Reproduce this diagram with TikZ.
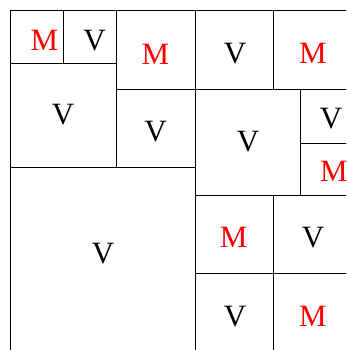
\documentclass[tikz,border=0pt]{standalone}
\usepackage{fontspec}
\setmainfont{Liberation Serif}
\begin{document}
\begin{tikzpicture}[x=1pt,y=-1pt,
  cell/.style={draw=black,line width=0.9pt},
  lab/.style={anchor=base,inner sep=0pt,font=\fontsize{31}{31}\selectfont},
  mlab/.style={lab,text=red},
  vlab/.style={lab,text=black}]
\useasboundingbox (0,0) rectangle (346,350);
\clip (0,0) rectangle (346,350);
\fill[white] (0,0) rectangle (346,350);
% cells
\draw[cell] (10.5,10.7) rectangle (63,63);
\draw[cell] (63,10.7) rectangle (116,63);
\draw[cell] (10.5,63) rectangle (116,167.3);
\draw[cell] (116,10.7) rectangle (195,89.5);
\draw[cell] (116,89.5) rectangle (195,167.3);
\draw[cell] (195,10.7) rectangle (273,89.5);
\draw[cell] (273,10.7) rectangle (360,89.5);
\draw[cell] (195,89.5) rectangle (300,195.5);
\draw[cell] (300,89.5) rectangle (360,143.3);
\draw[cell] (300,143.3) rectangle (360,195.5);
\draw[cell] (10.5,167.3) rectangle (195,360);
\draw[cell] (195,195.5) rectangle (273,273);
\draw[cell] (273,195.5) rectangle (360,273);
\draw[cell] (195,273) rectangle (273,360);
\draw[cell] (273,273) rectangle (360,360);
% labels (baseline = centre + half cap height)
\node[mlab] (l1) at (44.5,50.3) {M};
\node[vlab] (l2) at (94.5,50.3) {V};
\node[vlab] (l3) at (63,124.3) {V};
\node[mlab] (l4) at (155.3,64.3) {M};
\node[vlab] (l5) at (155.5,141.3) {V};
\node[vlab] (l6) at (235,63.6) {V};
\node[mlab] (l7) at (312.8,63.6) {M};
\node[vlab] (l8) at (248,151.3) {V};
\node[vlab] (l9) at (331,128.3) {V};
\node[mlab] (l10) at (334,181.3) {M};
\node[vlab] (l11) at (103,263.3) {V};
\node[mlab] (l12) at (233.7,247.8) {M};
\node[vlab] (l13) at (313,247.8) {V};
\node[vlab] (l14) at (235,326.3) {V};
\node[mlab] (l15) at (313,326.3) {M};
\end{tikzpicture}
\end{document}
